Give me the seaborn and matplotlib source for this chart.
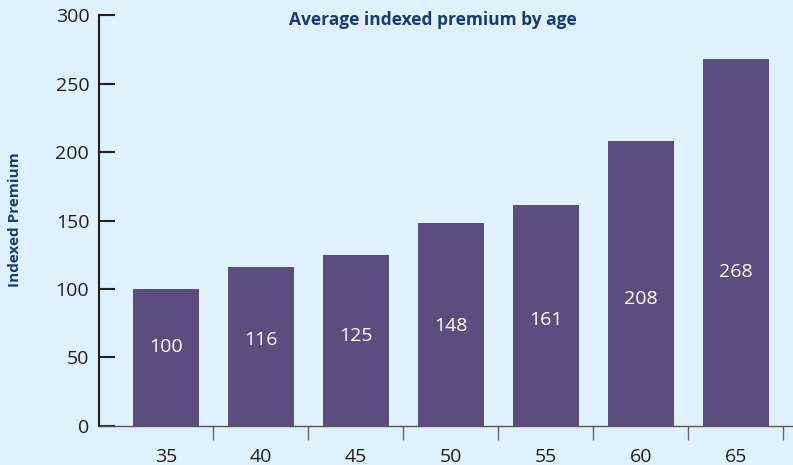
import matplotlib
matplotlib.use("Agg")
import matplotlib.pyplot as plt
import seaborn as sns
import pandas as pd
import numpy as np

ages = ["35", "40", "45", "50", "55", "60", "65"]
premium = [100, 116, 125, 148, 161, 208, 268]
yticks = [0, 50, 100, 150, 200, 250, 300]

BG = "#dff1fc"
BAR = "#5b4e7e"
NAVY = "#1a3b6e"
TXT = "#231f20"

sns.set_theme(style="white")
plt.rcParams['font.family'] = ['Open Sans', 'DejaVu Sans']

df = pd.DataFrame({"age": ages, "premium": premium})

fig = plt.figure(figsize=(7.93, 4.65), dpi=100, facecolor=BG)
ax = fig.add_axes([0.1248, 0.0845, 0.8752, 0.8825])
ax.set_facecolor(BG)

sns.barplot(data=df, x="age", y="premium", color=BAR, saturation=1, width=0.7,
            linewidth=0, ax=ax)

ax.set_ylim(0, 300)
ax.set_xlim(-0.705, 6.6)
ax.set_yticks(yticks)
ax.tick_params(axis="y", left=True, direction="in", length=11.5, width=1.5, color=TXT,
               labelsize=14, labelcolor=TXT, pad=7)

# x axis: category labels with no ticks, boundary ticks as minor ticks
ax.set_xticks(range(len(ages)))
ax.set_xticklabels(ages)
ax.set_xticks(np.arange(0.5, len(ages), 1.0), minor=True)
ax.tick_params(axis="x", which="major", bottom=True, length=0, labelsize=14,
               labelcolor=TXT, pad=16)
ax.tick_params(axis="x", which="minor", bottom=True, direction="out", length=10,
               width=1, color="#666666")

for s in ["top", "right"]:
    ax.spines[s].set_visible(False)
ax.spines["left"].set_color(TXT)
ax.spines["left"].set_linewidth(1.5)
ax.spines["bottom"].set_color("#555555")
ax.spines["bottom"].set_linewidth(1.0)

ax.set_xlabel("")
ax.set_ylabel("")

for i, v in enumerate(premium):
    ax.text(i, 25 + 0.325 * v, str(v), ha="center", va="center",
            color="white", fontsize=14)

fig.text(0.546, 0.957, "Average indexed premium by age", ha="center", va="center",
         color=NAVY, fontsize=12.5, fontweight="bold")
fig.text(0.019, 0.527, "Indexed Premium", ha="center", va="center", rotation=90,
         color=NAVY, fontsize=11, fontweight="bold")

fig.savefig("out.png", dpi=100, facecolor=BG)
